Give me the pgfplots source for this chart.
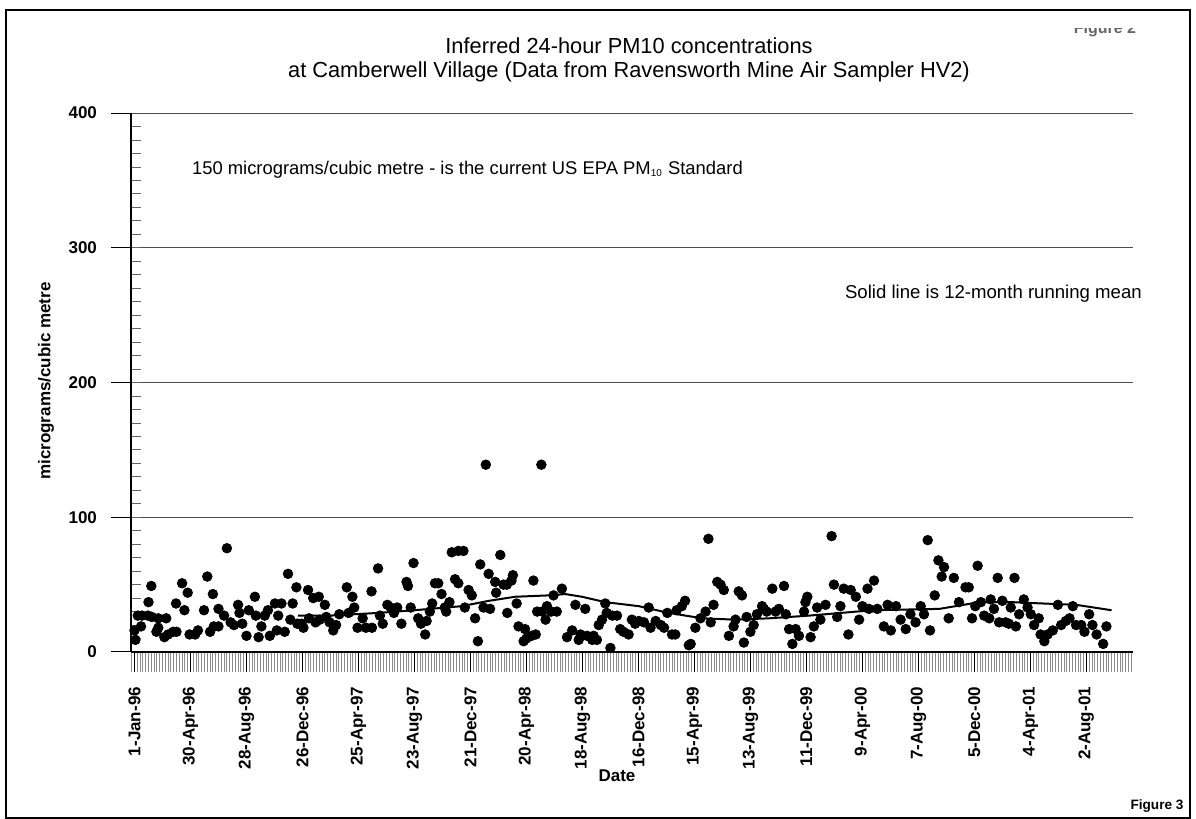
\documentclass[border=0pt]{standalone}
\usepackage{pgfplots}
\pgfplotsset{compat=1.18}
\usepackage{fontspec}
\setmainfont{Liberation Sans}
\begin{document}
\begin{tikzpicture}
\useasboundingbox (-65.5pt,-83.5pt) rectangle (532.5pt,326pt);
\begin{axis}[
 at={(0pt,0pt)}, anchor=south west,
 scale only axis, width=501pt, height=269.5pt,
 xmin=-7.5, xmax=2140, ymin=0, ymax=400,
 axis x line=bottom, axis y line=left,
 axis line style={-, black, line width=0.6pt},
 xtick={0,120,...,2040},
 xticklabels={1-Jan-96,30-Apr-96,28-Aug-96,26-Dec-96,25-Apr-97,23-Aug-97,21-Dec-97,20-Apr-98,18-Aug-98,16-Dec-98,15-Apr-99,13-Aug-99,11-Dec-99,9-Apr-00,7-Aug-00,5-Dec-00,4-Apr-01,2-Aug-01},
 minor xtick={-6,0,...,2136},
 ytick={0,100,...,400},
 minor ytick={10,20,...,390},
 tick align=outside,
 major tick length=10pt, minor tick length=10pt,
 every minor x tick/.append style={black!45, line width=0.4pt},
 every minor y tick/.append style={xscale=-0.5, black!60, line width=0.4pt},
 every major tick/.append style={black, line width=0.5pt},
 ymajorgrids, grid style={black!70, line width=0.5pt},
 xticklabel style={rotate=90, anchor=east, font=\fontsize{8.5}{9}\selectfont\bfseries},
 xticklabel shift=4pt,
 yticklabel style={font=\fontsize{8.5}{9}\selectfont\bfseries},
 yticklabel shift=3.5pt,
 /pgf/number format/assume math mode=true,
 clip=false,
]
\addplot[only marks, mark=*, mark size=2.4pt, black] table {
x y
0 16
2 9
7 27
14 19
16 27
29 27
30 37
36 49
37 26
47 15
51 25
51 18
64 11
68 25
72 13
83 15
89 36
90 15
102 51
107 31
114 44
118 13
130 13
136 16
149 31
156 56
162 15
168 43
170 19
180 19
180 32
192 27
198 77
206 22
213 20
222 35
225 29
231 21
240 12
245 31
258 41
260 27
266 11
272 19
279 27
286 31
290 12
301 36
305 16
308 27
315 36
322 15
329 58
334 24
339 36
347 48
349 21
358 21
362 18
372 46
374 25
383 40
388 22
395 41
397 24
408 35
411 26
418 22
426 16
432 20
439 28
455 48
459 29
467 41
471 33
478 18
489 25
496 18
508 45
509 18
522 62
526 27
532 21
542 35
549 33
556 29
563 33
572 21
583 52
586 49
592 33
598 66
608 25
614 21
623 13
626 23
633 30
638 36
644 51
651 51
658 43
665 33
668 30
675 37
680 74
687 54
694 51
694 75
705 75
708 33
716 46
723 42
730 25
736 8
741 65
748 33
753 139
759 58
762 32
773 52
775 44
784 72
791 50
798 50
799 29
808 53
811 57
819 36
823 19
834 8
837 17
840 10
851 12
855 53
860 13
863 30
872 139
874 30
881 24
884 34
893 30
898 42
905 30
916 47
927 11
938 16
945 35
952 9
956 13
966 32
970 12
981 9
984 12
991 9
995 20
1002 24
1009 36
1012 29
1020 3
1024 27
1034 27
1041 17
1048 15
1059 13
1066 24
1073 21
1081 23
1092 22
1102 33
1106 18
1117 23
1128 20
1135 18
1142 29
1152 13
1159 13
1162 31
1173 34
1180 38
1188 5
1192 6
1202 18
1213 25
1224 30
1230 84
1235 22
1241 35
1249 52
1256 50
1263 46
1274 12
1284 19
1288 24
1295 45
1302 42
1306 7
1312 26
1320 15
1327 20
1334 28
1345 34
1349 32
1355 30
1367 47
1374 30
1381 32
1392 49
1396 28
1403 17
1410 6
1417 17
1424 12
1435 30
1438 37
1442 41
1449 11
1456 19
1463 33
1470 24
1481 35
1494 86
1499 50
1506 26
1513 34
1520 47
1530 13
1535 46
1546 41
1553 24
1560 34
1571 47
1574 32
1585 53
1592 32
1606 19
1614 35
1621 16
1632 34
1642 24
1653 17
1663 28
1674 22
1685 34
1692 28
1700 83
1705 16
1715 42
1723 68
1730 56
1735 63
1745 25
1756 55
1767 37
1781 48
1788 48
1795 25
1802 34
1807 64
1814 37
1821 27
1832 25
1835 39
1842 32
1850 55
1853 22
1860 38
1867 22
1874 21
1878 33
1886 55
1889 19
1896 28
1906 39
1914 33
1921 28
1928 20
1938 25
1942 13
1950 8
1957 13
1968 16
1979 35
1986 20
1996 23
2004 25
2011 34
2018 20
2029 20
2036 15
2046 28
2053 20
2062 13
2076 6
2083 19
};
\addplot[black, line width=1pt] table {
x y
350 27
420 27
522 29
600 31
701 34
760 38
816 41
887 42
923 43
959 41
1009 37
1081 34
1145 29
1217 25
1288 24
1360 25
1446 27
1582 31
1725 32
1811 37
1880 37
1947 36
2018 35
2094 31
};
\end{axis}
% border
\draw[black, line width=0.7pt] (-62.5pt,-83pt) rectangle (529.5pt,321pt);
% titles and labels
\node[align=center, font=\fontsize{10.9}{12}\selectfont] at (249pt,296pt)
  {Inferred 24-hour PM10 concentrations\\at Camberwell Village (Data from Ravensworth Mine Air Sampler HV2)};
\node[anchor=west, font=\fontsize{9.2}{11}\selectfont] at (27pt,241pt)
  {150 micrograms/cubic metre - is the current US EPA PM\textsubscript{\fontsize{5}{6}\selectfont 10} Standard};
\node[anchor=west, font=\fontsize{9.3}{11}\selectfont] at (353.5pt,179pt)
  {Solid line is 12-month running mean};
\node[font=\fontsize{8.5}{10}\selectfont\bfseries] at (243pt,-62pt) {Date};
\node[rotate=90, font=\fontsize{8.5}{10}\selectfont\bfseries] at (-42.5pt,135.5pt) {micrograms/cubic metre};
\node[font=\fontsize{6.8}{8}\selectfont\bfseries] at (513pt,-77pt) {Figure 3};
\begin{scope}
\clip (465pt,306pt) rectangle (519.5pt,311.5pt);
\node[font=\fontsize{8}{9}\selectfont\bfseries, text=black!60] at (487pt,311.5pt) {Figure 2};
\end{scope}
\end{tikzpicture}
\end{document}
